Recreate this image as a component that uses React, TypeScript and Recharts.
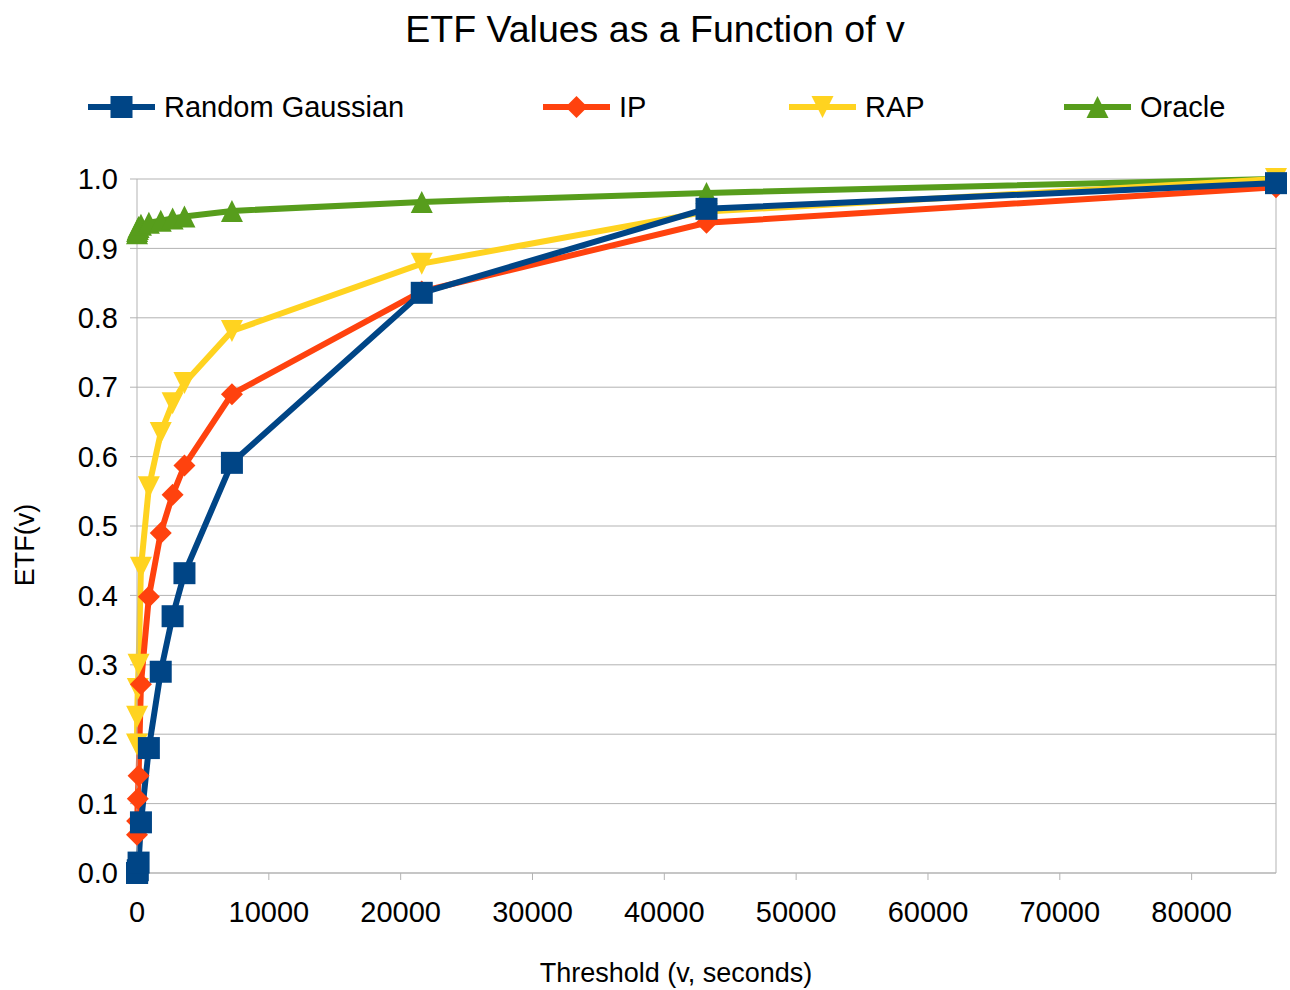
import React from "react"
import { LineChart, Line, XAxis, YAxis, CartesianGrid, ReferenceLine } from "recharts"

// threshold v in seconds
const thresholds = [1, 10, 60, 120, 300, 900, 1800, 2700, 3600, 7200, 21600, 43200, 86400]

const randomGaussian = [0, 0, 0.004, 0.015, 0.073, 0.18, 0.29, 0.37, 0.432, 0.591, 0.836, 0.957, 0.994]
const ip = [0.055, 0.075, 0.107, 0.14, 0.272, 0.398, 0.49, 0.545, 0.587, 0.69, 0.838, 0.937, 0.988]
const rap = [0.185, 0.225, 0.265, 0.3, 0.44, 0.556, 0.634, 0.677, 0.706, 0.781, 0.878, 0.953, 1.0]
const oracle = [0.922, 0.925, 0.928, 0.931, 0.934, 0.937, 0.94, 0.943, 0.946, 0.954, 0.967, 0.98, 1.0]

const xTicks = [0, 10000, 20000, 30000, 40000, 50000, 60000, 70000, 80000]
const yTicks = [0, 0.1, 0.2, 0.3, 0.4, 0.5, 0.6, 0.7, 0.8, 0.9, 1.0]

const FONT = "'Liberation Sans', Arial, sans-serif"
const GRID = "#b3b3b3"

type MarkerKind = "square" | "diamond" | "down" | "up"

function markerShape(kind: MarkerKind, cx: number, cy: number, fill: string, key?: string) {
  const r = 11
  if (kind === "square") return <rect key={key} x={cx - r} y={cy - r} width={r * 2} height={r * 2} fill={fill} />
  if (kind === "diamond")
    return <polygon key={key} points={`${cx},${cy - r} ${cx + r},${cy} ${cx},${cy + r} ${cx - r},${cy}`} fill={fill} />
  if (kind === "down")
    return <polygon key={key} points={`${cx - r},${cy - r} ${cx + r},${cy - r} ${cx},${cy + r}`} fill={fill} />
  return <polygon key={key} points={`${cx - r},${cy + r} ${cx + r},${cy + r} ${cx},${cy - r}`} fill={fill} />
}

const series = [
  { key: "gaussian", name: "Random Gaussian", color: "#004586", marker: "square" as MarkerKind, legendX: 88 },
  { key: "ip", name: "IP", color: "#ff420e", marker: "diamond" as MarkerKind, legendX: 543 },
  { key: "rap", name: "RAP", color: "#ffd320", marker: "down" as MarkerKind, legendX: 789 },
  { key: "oracle", name: "Oracle", color: "#579d1c", marker: "up" as MarkerKind, legendX: 1064 },
]

const chartData = thresholds.map((v, i) => ({
  v,
  gaussian: randomGaussian[i],
  ip: ip[i],
  rap: rap[i],
  oracle: oracle[i],
}))

export default function App() {
  // draw order: last series on top, like the original
  const drawOrder = [...series].reverse()

  return (
    <div style={{ position: "absolute", left: 0, top: 0, width: 1290, height: 990, background: "#fff", fontFamily: FONT }}>
      <div style={{ position: "absolute", top: 8, left: 0, width: 1310, textAlign: "center", fontSize: 37.5, color: "#000" }}>
        ETF Values as a Function of v
      </div>

      {series.map((s) => (
        <div key={s.key} style={{ position: "absolute", left: s.legendX, top: 90, height: 34, display: "flex", alignItems: "center" }}>
          <svg width={67} height={34}>
            <line x1={0} y1={17} x2={67} y2={17} stroke={s.color} strokeWidth={6} />
            {markerShape(s.marker, 33.5, 17, s.color)}
          </svg>
          <span style={{ marginLeft: 9, fontSize: 29, color: "#000" }}>{s.name}</span>
        </div>
      ))}

      <div
        style={{
          position: "absolute",
          left: 25,
          top: 545,
          transform: "translate(-50%, -50%) rotate(-90deg)",
          fontSize: 27,
          whiteSpace: "nowrap",
        }}
      >
        ETF(v)
      </div>
      <div style={{ position: "absolute", left: 0, width: 1352, top: 958, textAlign: "center", fontSize: 27 }}>
        Threshold (v, seconds)
      </div>

      <LineChart width={1290} height={990} data={chartData} margin={{ top: 179, right: 14, bottom: 0, left: 0 }}>
        <CartesianGrid vertical={false} stroke={GRID} horizontalValues={yTicks} />
        <XAxis
          type="number"
          dataKey="v"
          domain={[0, 86400]}
          ticks={xTicks}
          interval={0}
          height={117}
          tickSize={7}
          tickMargin={21}
          axisLine={{ stroke: GRID }}
          tickLine={{ stroke: GRID }}
          tick={{ fontSize: 29, fill: "#000", fontFamily: FONT }}
        />
        <YAxis
          type="number"
          domain={[0, 1]}
          ticks={yTicks}
          interval={0}
          width={137}
          tickSize={7}
          tickMargin={12}
          tickFormatter={(t: number) => t.toFixed(1)}
          axisLine={{ stroke: GRID }}
          tickLine={{ stroke: GRID }}
          tick={{ fontSize: 29, fill: "#000", fontFamily: FONT }}
        />
        <ReferenceLine x={86400} stroke={GRID} />
        {drawOrder.map((s) => (
          <Line
            key={s.key}
            type="linear"
            dataKey={s.key}
            name={s.name}
            stroke={s.color}
            strokeWidth={6}
            isAnimationActive={false}
            dot={(p: any) => markerShape(s.marker, p.cx, p.cy, s.color, `${s.key}-${p.index}`)}
            activeDot={false}
          />
        ))}
      </LineChart>
    </div>
  )
}
